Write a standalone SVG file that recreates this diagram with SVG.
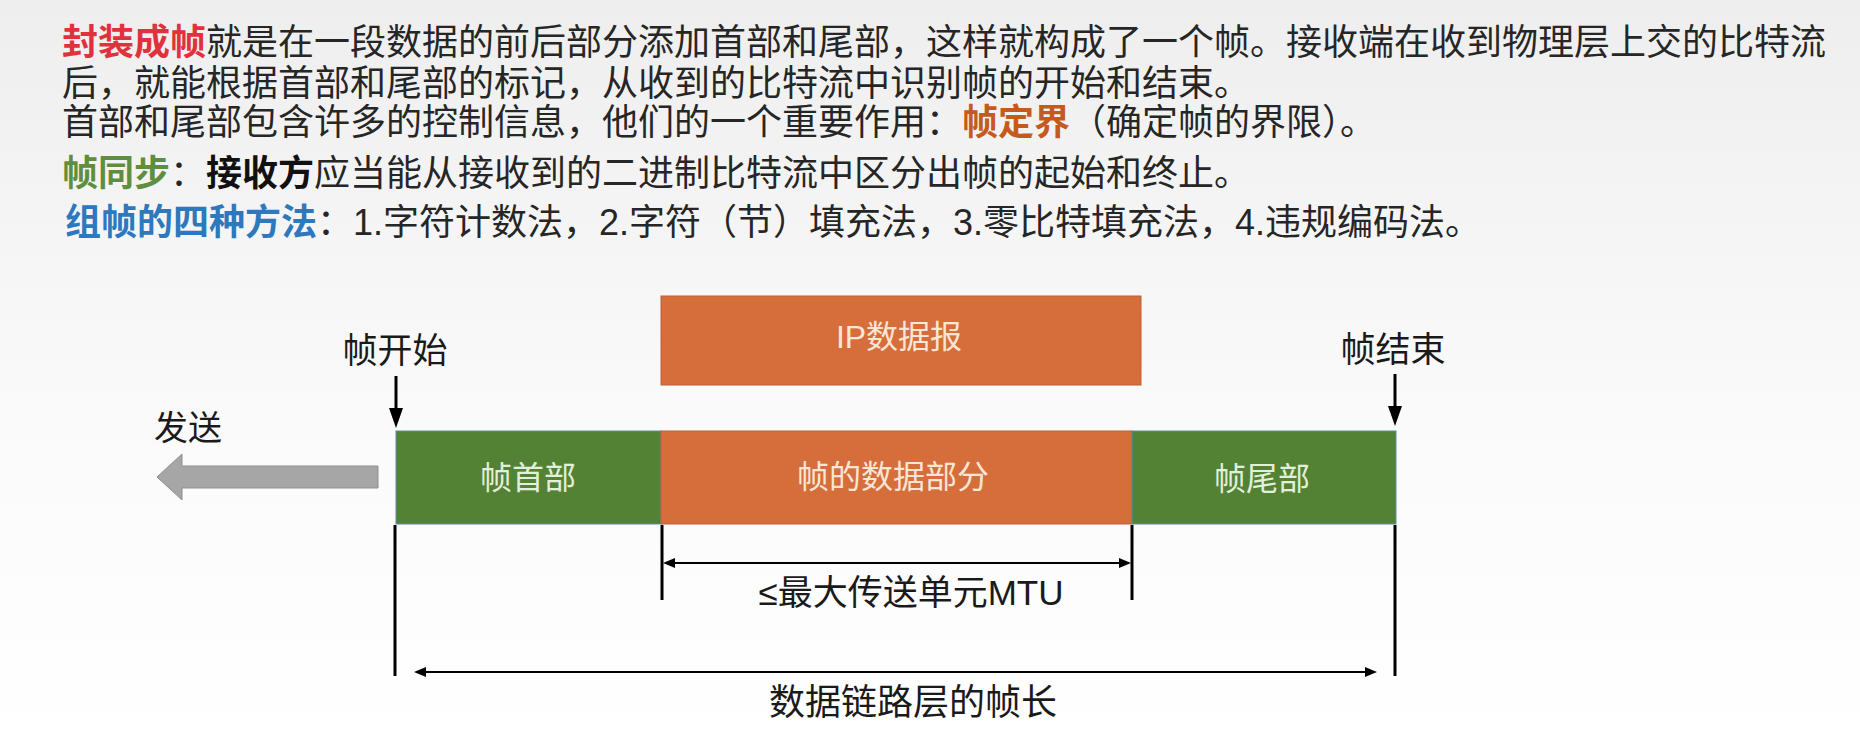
<svg xmlns="http://www.w3.org/2000/svg" width="1860" height="743" viewBox="0 0 1860 743">
  <defs>
    <linearGradient id="bg" x1="0" y1="0" x2="0" y2="1">
      <stop offset="0" stop-color="#eeeeee"/>
      <stop offset="0.55" stop-color="#fafafa"/>
      <stop offset="1" stop-color="#ffffff"/>
    </linearGradient>
    <marker id="downHead" viewBox="0 0 20 14" refX="0" refY="7" markerWidth="20" markerHeight="14" markerUnits="userSpaceOnUse" orient="auto">
      <path d="M0,0 L20,7 L0,14 z" fill="#000"/>
    </marker>
    <marker id="dimHead" viewBox="0 0 12 10" refX="0" refY="5" markerWidth="12" markerHeight="10" markerUnits="userSpaceOnUse" orient="auto-start-reverse">
      <path d="M0,0 L12,5 L0,10 z" fill="#000"/>
    </marker>
    <style>
      .txt { font-family: 'Liberation Sans', 'Noto Sans CJK SC', sans-serif; fill: #262626; }
      .body { font-size: 36px; }
      .lbl { font-size: 35px; text-anchor: middle; fill: #1a1a1a; }
      .inG { font-size: 32px; text-anchor: middle; fill: #e2efd9; }
      .inO { font-size: 32px; text-anchor: middle; fill: #fbe5d6; }
      .green { fill: #548235; stroke: #5b8bb0; stroke-width: 1; }
      .orange { fill: #d66e3b; stroke: #b8603a; stroke-width: 1; }
      .tick { stroke: #000; stroke-width: 3; fill: none; }
      .dim { stroke: #000; stroke-width: 2; fill: none; }
      .pointer { stroke: #000; stroke-width: 3; fill: none; }
    </style>
  </defs>

  <rect x="0" y="0" width="1860" height="743" fill="url(#bg)"/>

  <g id="intro-text" class="txt body">
    <text x="62" y="55"><tspan fill="#e0323c" font-weight="bold">封装成帧</tspan>就是在一段数据的前后部分添加首部和尾部，这样就构成了一个帧。接收端在收到物理层上交的比特流</text>
    <text x="62" y="96">后，就能根据首部和尾部的标记，从收到的比特流中识别帧的开始和结束。</text>
    <text x="62" y="135">首部和尾部包含许多的控制信息，他们的一个重要作用：<tspan fill="#c55a1e" font-weight="bold">帧定界</tspan>（确定帧的界限）。</text>
    <text x="62" y="186"><tspan fill="#5f8f3e" font-weight="bold">帧同步</tspan>：<tspan fill="#111" font-weight="bold">接收方</tspan>应当能从接收到的二进制比特流中区分出帧的起始和终止。</text>
    <text x="65" y="235"><tspan fill="#2e78bd" font-weight="bold">组帧的四种方法</tspan>：1.字符计数法，2.字符（节）填充法，3.零比特填充法，4.违规编码法。</text>
  </g>

  <g id="ip-datagram">
    <rect class="orange" x="661" y="296" width="480" height="89"/>
    <text class="txt inO" x="899" y="348" font-size="33">IP数据报</text>
  </g>

  <g id="frame-header">
    <rect class="green" x="396" y="431" width="265" height="93"/>
    <text class="txt inG" x="528" y="489">帧首部</text>
  </g>

  <g id="frame-data">
    <rect class="orange" x="661" y="431" width="471" height="93"/>
    <text class="txt inO" x="893" y="488">帧的数据部分</text>
  </g>

  <g id="frame-trailer">
    <rect class="green" x="1132" y="431" width="264" height="93"/>
    <text class="txt inG" x="1262" y="490">帧尾部</text>
  </g>

  <g id="frame-start-label">
    <text class="txt lbl" x="395" y="363">帧开始</text>
  </g>

  <g id="frame-end-label">
    <text class="txt lbl" x="1393" y="362">帧结束</text>
  </g>

  <g id="send">
    <text class="txt lbl" x="188" y="440" style="font-size:34px">发送</text>
    <polygon points="157,477 182,454 182,466 378,466 378,488 182,488 182,500" fill="#a6a6a6" stroke="#8f8f8f" stroke-width="1"/>
  </g>

  <g id="mtu-label">
    <text class="txt lbl" x="911" y="605">≤最大传送单元MTU</text>
  </g>

  <g id="frame-length-label">
    <text class="txt lbl" x="913" y="715" style="font-size:36px">数据链路层的帧长</text>
  </g>

  <g id="connectors">
    <line class="pointer" x1="396" y1="376" x2="396" y2="408" marker-end="url(#downHead)"/>
    <line class="pointer" x1="1395" y1="374" x2="1395" y2="406" marker-end="url(#downHead)"/>
    <line class="tick" x1="395" y1="525" x2="395" y2="676"/>
    <line class="tick" x1="662" y1="525" x2="662" y2="600"/>
    <line class="tick" x1="1132" y1="525" x2="1132" y2="600"/>
    <line class="tick" x1="1395" y1="525" x2="1395" y2="676"/>
    <line class="dim" x1="675" y1="563" x2="1119" y2="563" marker-start="url(#dimHead)" marker-end="url(#dimHead)"/>
    <line class="dim" x1="426" y1="672" x2="1365" y2="672" marker-start="url(#dimHead)" marker-end="url(#dimHead)"/>
  </g>
</svg>
